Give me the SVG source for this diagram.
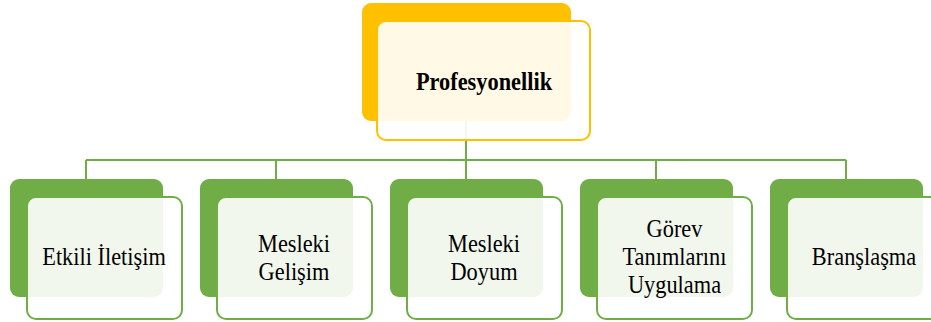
<svg xmlns="http://www.w3.org/2000/svg" width="931" height="322" viewBox="0 0 931 322">
<style>
.conn{stroke:#70AD47;stroke-width:2;fill:none}
.backY{fill:#FFC000}
.frontY{fill:#FFFFFF;fill-opacity:0.9;stroke:#FFC000;stroke-width:2}
.backG{fill:#70AD47}
.frontG{fill:#FFFFFF;fill-opacity:0.9;stroke:#70AD47;stroke-width:2}
.t{font-family:'Liberation Serif',serif;font-size:26px;fill:#000;text-anchor:middle}
.b{font-weight:bold}
</style>
<rect width="931" height="322" fill="#FFFFFF"/>
<g id="connectors">
<path class="conn" d="M466 121V160M86 160H846M86 160V179M276 160V179M466 160V179M656 160V179M846 160V179"/>
</g>
<g id="profesyonellik">
<rect class="backY" x="362" y="3" width="209" height="118" rx="9"/>
<rect class="frontY" x="377" y="21" width="213" height="119" rx="9"/>
<text class="t b" transform="translate(484 90) scale(0.86 1)">Profesyonellik</text>
</g>
<g id="etkili-iletisim">
<rect class="backG" x="10" y="179" width="153" height="118" rx="9"/>
<rect class="frontG" x="27" y="197" width="155" height="122" rx="9"/>
<text class="t" transform="translate(104 265) scale(0.86 1)">Etkili İletişim</text>
</g>
<g id="mesleki-gelisim">
<rect class="backG" x="200" y="179" width="153" height="118" rx="9"/>
<rect class="frontG" x="217" y="197" width="155" height="122" rx="9"/>
<text class="t" transform="translate(294 252) scale(0.86 1)">Mesleki</text>
<text class="t" transform="translate(294 280) scale(0.86 1)">Gelişim</text>
</g>
<g id="mesleki-doyum">
<rect class="backG" x="390" y="179" width="153" height="118" rx="9"/>
<rect class="frontG" x="407" y="197" width="155" height="122" rx="9"/>
<text class="t" transform="translate(484 252) scale(0.86 1)">Mesleki</text>
<text class="t" transform="translate(484 280) scale(0.86 1)">Doyum</text>
</g>
<g id="gorev-tanimlarini-uygulama">
<rect class="backG" x="580" y="179" width="153" height="118" rx="9"/>
<rect class="frontG" x="597" y="197" width="155" height="122" rx="9"/>
<text class="t" transform="translate(674.5 237) scale(0.86 1)">Görev</text>
<text class="t" transform="translate(674.5 265) scale(0.86 1)">Tanımlarını</text>
<text class="t" transform="translate(674.5 293) scale(0.86 1)">Uygulama</text>
</g>
<g id="branslasma">
<rect class="backG" x="770" y="179" width="153" height="118" rx="9"/>
<rect class="frontG" x="787" y="197" width="155" height="122" rx="9"/>
<text class="t" transform="translate(864 265) scale(0.86 1)">Branşlaşma</text>
</g>
</svg>
